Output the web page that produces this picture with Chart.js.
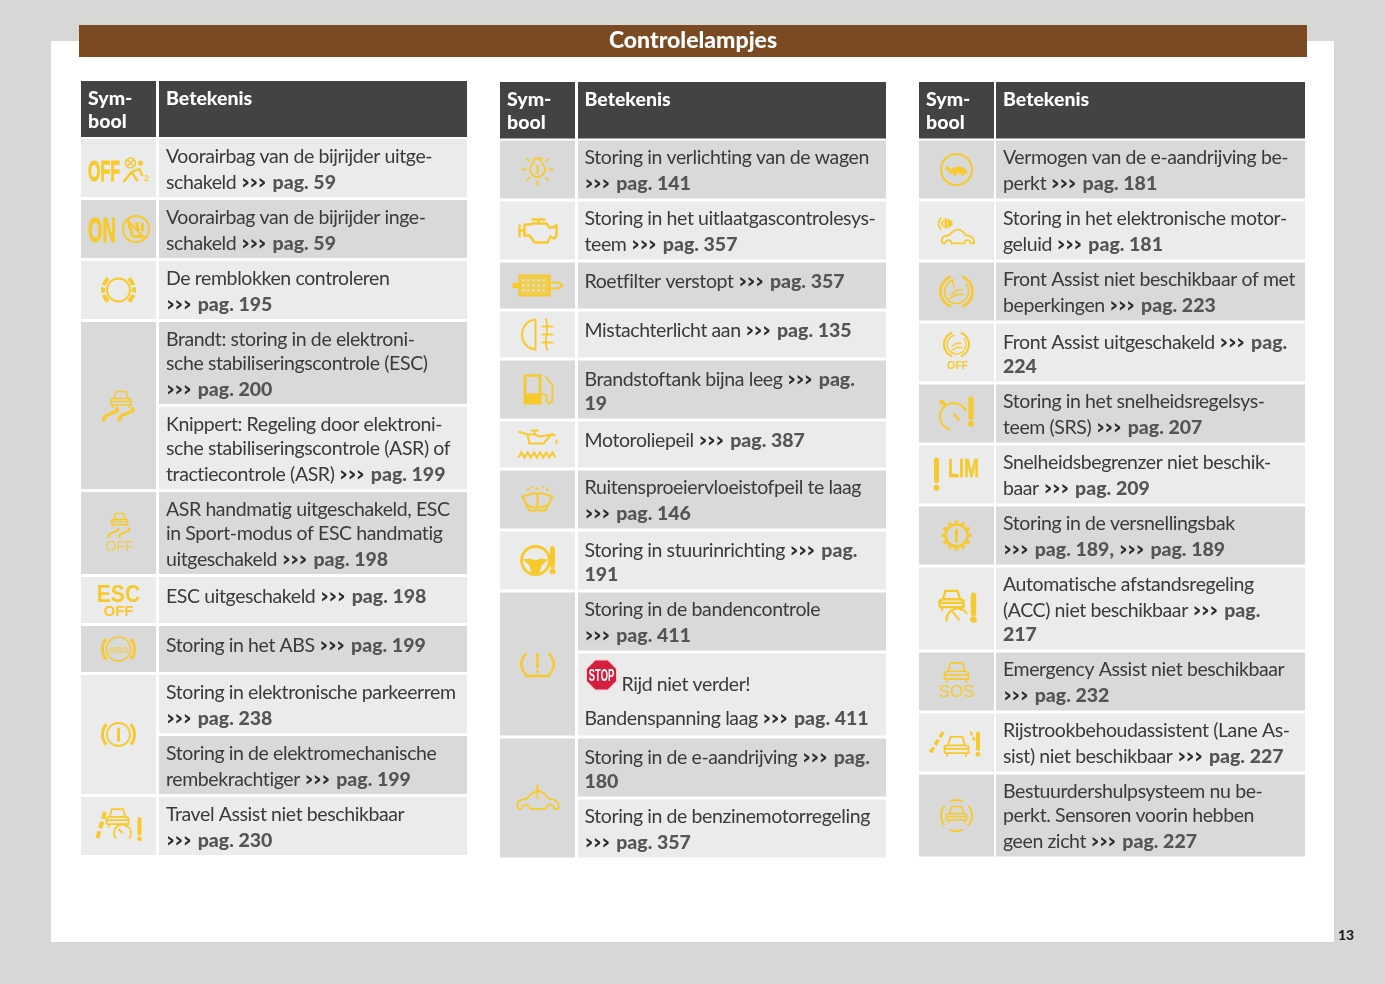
<!DOCTYPE html>
<html>
<head>
<meta charset="utf-8">
<title>Controlelampjes</title>
<script src="https://cdn.jsdelivr.net/npm/chart.js@4"></script>
<style>
  html, body { margin: 0; background: #d7d7d5; }
  #page { position: relative; width: 1385px; height: 984px; overflow: hidden; }
  #sheet { position: absolute; left: 51px; top: 41px; width: 1283px; height: 901px; background: #fff; }
  #band { position: absolute; left: 79px; top: 25px; width: 1228px; height: 32px; background: #7b4a22; }
  canvas { position: absolute; left: 0; top: 0; }
</style>
</head>
<body>
<div id="page">
  <div id="sheet"></div>
  <div id="band"></div>
  <canvas id="lampChart" width="1385" height="984"></canvas>
</div>
<script>
const pageTitle = 'Controlelampjes';
const pageNumber = '13';
const headerSymbol = ['Sym-', 'bool'];
const headerMeaning = 'Betekenis';

// regels per rij, STOP = stopbord voor de tekst
const leftRows = [
  ['Voorairbag van de bijrijder uitge-', 'schakeld ››› pag. 59'],
  ['Voorairbag van de bijrijder inge-', 'schakeld ››› pag. 59'],
  ['De remblokken controleren', '››› pag. 195'],
  ['Brandt: storing in de elektroni-', 'sche stabiliseringscontrole (ESC)', '››› pag. 200'],
  ['Knippert: Regeling door elektroni-', 'sche stabiliseringscontrole (ASR) of', 'tractiecontrole (ASR) ››› pag. 199'],
  ['ASR handmatig uitgeschakeld, ESC', 'in Sport-modus of ESC handmatig', 'uitgeschakeld ››› pag. 198'],
  ['ESC uitgeschakeld ››› pag. 198'],
  ['Storing in het ABS ››› pag. 199'],
  ['Storing in elektronische parkeerrem', '››› pag. 238'],
  ['Storing in de elektromechanische', 'rembekrachtiger ››› pag. 199'],
  ['Travel Assist niet beschikbaar', '››› pag. 230']
];
const middleRows = [
  ['Storing in verlichting van de wagen', '››› pag. 141'],
  ['Storing in het uitlaatgascontrolesys-', 'teem ››› pag. 357'],
  ['Roetfilter verstopt ››› pag. 357'],
  ['Mistachterlicht aan ››› pag. 135'],
  ['Brandstoftank bijna leeg ››› pag.', '19'],
  ['Motoroliepeil ››› pag. 387'],
  ['Ruitensproeiervloeistofpeil te laag', '››› pag. 146'],
  ['Storing in stuurinrichting ››› pag.', '191'],
  ['Storing in de bandencontrole', '››› pag. 411'],
  ['STOP Rijd niet verder!', 'Bandenspanning laag ››› pag. 411'],
  ['Storing in de e-aandrijving ››› pag.', '180'],
  ['Storing in de benzinemotorregeling', '››› pag. 357']
];
const rightRows = [
  ['Vermogen van de e-aandrijving be-', 'perkt ››› pag. 181'],
  ['Storing in het elektronische motor-', 'geluid ››› pag. 181'],
  ['Front Assist niet beschikbaar of met', 'beperkingen ››› pag. 223'],
  ['Front Assist uitgeschakeld ››› pag.', '224'],
  ['Storing in het snelheidsregelsys-', 'teem (SRS) ››› pag. 207'],
  ['Snelheidsbegrenzer niet beschik-', 'baar ››› pag. 209'],
  ['Storing in de versnellingsbak', '››› pag. 189, ››› pag. 189'],
  ['Automatische afstandsregeling', '(ACC) niet beschikbaar ››› pag.', '217'],
  ['Emergency Assist niet beschikbaar', '››› pag. 232'],
  ['Rijstrookbehoudassistent (Lane As-', 'sist) niet beschikbaar ››› pag. 227'],
  ['Bestuurdershulpsysteem nu be-', 'perkt. Sensoren voorin hebben', 'geen zicht ››› pag. 227']
];

// hoeveel rijen elk symbool beslaat
const leftSpans = [1, 1, 1, 2, 1, 1, 1, 2, 1];
const middleSpans = [1, 1, 1, 1, 1, 1, 1, 1, 2, 2];
const rightSpans = [1, 1, 1, 1, 1, 1, 1, 1, 1, 1, 1];

const leftIcons = ['airbagOff', 'airbagOn', 'brakePads', 'skid', 'skidOff', 'escOff', 'abs', 'parkBrake', 'travel'];
const middleIcons = ['bulb', 'engine', 'filter', 'fog', 'fuel', 'oil', 'washer', 'steering', 'tyre', 'carWarn'];
const rightIcons = ['turtle', 'sound', 'front', 'frontOff', 'speed', 'lim', 'gear', 'acc', 'sos', 'lane', 'sensors'];

const YELLOW = '#f6c92c';
const LIGHT = '#ebebeb';
const GREY = '#d9d9d9';
const DARK = '#434343';
const TEXT_FONT = 'Lato';
const TEXT_SIZE = 19.5;
const HEAVY = '900 19.5px ' + TEXT_FONT;

const rowHeight = { 1: 46, 2: 58, 3: 82 };
const rowGap = 3;
const tables = [
  { rows: leftRows, spans: leftSpans, icons: leftIcons, left: 81, meanLeft: 159, meanW: 308, textX: 166, headTop: 81, firstRow: 139, textLift: 0, firstShade: LIGHT },
  { rows: middleRows, spans: middleSpans, icons: middleIcons, left: 500, meanLeft: 578, meanW: 308, textX: 584.5, headTop: 82, firstRow: 140.5, textLift: 0.5, firstShade: GREY },
  { rows: rightRows, spans: rightSpans, icons: rightIcons, left: 919, meanLeft: 996, meanW: 309, textX: 1003, headTop: 82, firstRow: 140.5, textLift: 0.5, firstShade: GREY }
];
const SYM_W = 75;

function lineCount(row) {
  return row.length + (row[0].startsWith('STOP') ? 1 : 0);
}

tables.forEach(function(t) {
  let y = t.firstRow;
  t.tops = [];
  t.bottoms = [];
  t.rows.forEach(function(row) {
    t.tops.push(y);
    y += rowHeight[lineCount(row)];
    t.bottoms.push(y);
    y += rowGap;
  });
});

function shadeOf(t, i) {
  const other = t.firstShade === LIGHT ? GREY : LIGHT;
  return i % 2 === 0 ? t.firstShade : other;
}

const datasets = [];
tables.forEach(function(t) {
  const symX = t.left + SYM_W / 2;
  const meanX = t.meanLeft + t.meanW / 2;
  datasets.push({ barThickness: SYM_W, backgroundColor: DARK, data: [{ x: symX, y: [t.headTop, t.firstRow - 2] }] });
  datasets.push({ barThickness: t.meanW, backgroundColor: DARK, data: [{ x: meanX, y: [t.headTop, t.firstRow - 2] }] });

  const symCells = [], symColors = [];
  let r = 0;
  t.spans.forEach(function(span) {
    symCells.push({ x: symX, y: [t.tops[r], t.bottoms[r + span - 1]] });
    symColors.push(shadeOf(t, r));
    r += span;
  });
  datasets.push({ barThickness: SYM_W, backgroundColor: symColors, data: symCells });
  datasets.push({
    barThickness: t.meanW,
    backgroundColor: t.rows.map(function(row, i) { return shadeOf(t, i); }),
    data: t.rows.map(function(row, i) { return { x: meanX, y: [t.tops[i], t.bottoms[i]] }; })
  });
});

// ---- kleine tekenhulpjes voor de symbolen ----
function poly(c, pts, close) {
  c.beginPath();
  pts.forEach(function(p, i) { i ? c.lineTo(p[0], p[1]) : c.moveTo(p[0], p[1]); });
  if (close) c.closePath();
  c.stroke();
}
function arc(c, x, y, r, a, b) {
  c.beginPath();
  c.arc(x, y, r, a * Math.PI / 180, b * Math.PI / 180);
  c.stroke();
}
function dot(c, x, y, r) {
  c.beginPath();
  c.arc(x, y, r, 0, Math.PI * 2);
  c.fill();
}
function bang(c, x, y, h, w) {
  c.save();
  c.lineWidth = w;
  c.lineCap = 'round';
  poly(c, [[x, y - h / 2 + w / 2], [x, y + h * 0.2]]);
  c.restore();
  dot(c, x, y + h / 2 - w * 0.55, w * 0.6);
}
function word(c, s, x, y, font, sx, heft) {
  c.save();
  c.font = font;
  c.textAlign = 'center';
  c.translate(x, y);
  c.scale(sx || 1, 1);
  c.fillText(s, 0, 0);
  if (heft) {
    c.lineWidth = heft;
    c.strokeText(s, 0, 0);
  }
  c.restore();
}
function carFront(c, x, y, s) {
  poly(c, [[x - .72 * s, y - .1 * s], [x - .5 * s, y - .8 * s], [x + .5 * s, y - .8 * s], [x + .72 * s, y - .1 * s]]);
  poly(c, [[x - s, y + .55 * s], [x - s, y], [x - .72 * s, y - .1 * s], [x + .72 * s, y - .1 * s], [x + s, y], [x + s, y + .55 * s], [x - s, y + .55 * s]]);
  poly(c, [[x - s, y + .2 * s], [x + s, y + .2 * s]]);
  poly(c, [[x - .8 * s, y + .55 * s], [x - .8 * s, y + .85 * s]]);
  poly(c, [[x + .8 * s, y + .55 * s], [x + .8 * s, y + .85 * s]]);
}
function carSide(c, x, y, s) {
  c.beginPath();
  c.moveTo(x - .75 * s, y + .42 * s);
  c.lineTo(x - .9 * s, y + .42 * s);
  c.quadraticCurveTo(x - 1.08 * s, y + .1 * s, x - .75 * s, y - .02 * s);
  c.lineTo(x - .5 * s, y - .08 * s);
  c.quadraticCurveTo(x - .2 * s, y - .42 * s, x + .05 * s, y - .42 * s);
  c.quadraticCurveTo(x + .3 * s, y - .4 * s, x + .5 * s, y - .08 * s);
  c.quadraticCurveTo(x + 1.08 * s, y - .02 * s, x + s, y + .42 * s);
  c.lineTo(x + .8 * s, y + .42 * s);
  c.arc(x + .6 * s, y + .42 * s, .2 * s, 0, Math.PI, true);
  c.lineTo(x - .35 * s, y + .42 * s);
  c.arc(x - .55 * s, y + .42 * s, .2 * s, 0, Math.PI, true);
  c.stroke();
}
function skids(c, x, y, s) {
  [-1, 1].forEach(function(d) {
    const ox = x + d * .55 * s;
    c.beginPath();
    c.moveTo(ox + .3 * s, y);
    c.bezierCurveTo(ox + .9 * s, y + .4 * s, ox - .8 * s, y + .35 * s, ox - .55 * s, y + s);
    c.stroke();
  });
}
function sideArcs(c, r) {
  arc(c, 0, 0, r, -40, 40);
  arc(c, 0, 0, r, 140, 220);
}

const iconDrawers = {
  airbagOff: function(c) {
    word(c, 'OFF', -14.5, 13, 'bold 30px "Liberation Sans"', .53, .8);
    c.lineWidth = 1.4;
    arc(c, 12, -5, 5, 0, 360);
    poly(c, [[8.5, -8.5], [15.5, -1.5]]);
    poly(c, [[15.5, -8.5], [8.5, -1.5]]);
    dot(c, 22, -5, 2.6);
    c.lineWidth = 2.4;
    poly(c, [[5, 14], [13, 4], [21, 1], [24, 8]]);
    poly(c, [[13, 4], [19, 13]]);
    word(c, '2', 28, 13, 'bold 9px "Liberation Sans"');
  },
  airbagOn: function(c) {
    word(c, 'ON', -16.5, 12.7, 'bold 35px "Liberation Sans"', .53, .8);
    c.lineWidth = 2;
    arc(c, 17.5, 0, 13, 0, 360);
    c.lineWidth = 3;
    poly(c, [[10, -7], [14, 7], [24, 8]]);
    poly(c, [[18, -7], [20, 2]]);
    poly(c, [[24, -6], [24, 2]]);
    c.lineWidth = 2;
    poly(c, [[9, -9], [26, 9]]);
  },
  brakePads: function(c) {
    c.lineWidth = 2;
    arc(c, 0, 0, 11.5, 0, 360);
    c.lineWidth = 4;
    arc(c, 0, 0, 15.5, -48, -18);
    arc(c, 0, 0, 15.5, -10, 10);
    arc(c, 0, 0, 15.5, 18, 48);
    arc(c, 0, 0, 15.5, 132, 162);
    arc(c, 0, 0, 15.5, 170, 190);
    arc(c, 0, 0, 15.5, 198, 228);
  },
  skid: function(c) {
    c.lineWidth = 1.5;
    carFront(c, 2.5, -6, 10);
    c.lineWidth = 3.2;
    skids(c, 1, 2, 14);
  },
  skidOff: function(c) {
    c.lineWidth = 1.5;
    carFront(c, 1, -13, 8);
    c.lineWidth = 2;
    skids(c, 1, -5, 10);
    c.globalAlpha = .8;
    word(c, 'OFF', 1, 18, '14px "Liberation Sans"');
  },
  escOff: function(c) {
    word(c, 'ESC', 0, 2, 'bold 24px "Liberation Sans"', .88);
    word(c, 'OFF', 0, 16, 'bold 15px "Liberation Sans"');
  },
  abs: function(c) {
    c.lineWidth = 1.6;
    arc(c, 0, 0, 12, 0, 360);
    c.lineWidth = 3;
    sideArcs(c, 16);
    c.globalAlpha = .75;
    word(c, 'ABS', 0, 3.5, 'bold 9.5px "Liberation Sans"');
  },
  parkBrake: function(c) {
    c.lineWidth = 1.8;
    arc(c, 0, 0, 11.5, 0, 360);
    c.lineWidth = 3;
    sideArcs(c, 16);
    bang(c, 0, 0, 14, 3);
  },
  travel: function(c) {
    c.lineWidth = 4;
    c.setLineDash([7, 3]);
    poly(c, [[-21, 12], [-13, -16]]);
    c.setLineDash([]);
    c.lineWidth = 1.8;
    carFront(c, -1, -8, 11);
    arc(c, 4, 7, 8.5, -220, 40);
    poly(c, [[4, 7], [0, 3]]);
    bang(c, 21, 3, 24, 4);
  },
  bulb: function(c) {
    c.lineWidth = 1.8;
    arc(c, 0, 0, 7.5, -60, 240);
    poly(c, [[-3.5, -7], [-3.5, -11], [3.5, -11], [3.5, -7]]);
    bang(c, 0, 0, 10, 2);
    [[-16, 0, -11, 0], [16, 0, 11, 0], [0, 16, 0, 11], [-11, -11, -8, -8], [11, -11, 8, -8], [-11, 11, -8, 8], [11, 11, 8, 8]].forEach(function(l) {
      poly(c, [[l[0], l[1]], [l[2], l[3]]]);
    });
  },
  engine: function(c) {
    c.lineWidth = 2.4;
    poly(c, [[-18, -6], [-18, 7]]);
    poly(c, [[-18, 0], [-13, 0]]);
    poly(c, [[-13, -6], [-13, 5], [-8, 5], [-3, 12], [10, 12], [13, 6], [17, 8], [19, 5], [19, -5], [15, -3], [12, -3], [9, -7], [-5, -7], [-8, -6], [-13, -6]]);
    poly(c, [[1, -7], [1, -11]]);
    poly(c, [[-6, -11], [8, -11]]);
  },
  filter: function(c) {
    c.globalAlpha = .75;
    c.fillRect(-18, -10, 30, 20);
    c.globalAlpha = 1;
    c.lineWidth = 2.2;
    poly(c, [[-18, -10], [12, -10], [12, 10], [-18, 10]], true);
    c.lineWidth = 5;
    poly(c, [[-25, 0], [-18, 0]]);
    c.lineWidth = 2;
    poly(c, [[12, -3], [21, -3], [25, 0], [21, 3], [12, 3]]);
    c.fillStyle = '#e8e0b8';
    for (let a = -14; a < 11; a += 5) { for (let b = -5; b < 7; b += 5) { dot(c, a, b, 1.3); } }
    c.fillStyle = YELLOW;
  },
  fog: function(c) {
    c.lineWidth = 2;
    c.beginPath();
    c.moveTo(-2, -15);
    c.bezierCurveTo(-20, -13, -20, 13, -2, 15);
    c.closePath();
    c.stroke();
    c.lineWidth = 1.8;
    [-8, 0, 8].forEach(function(y) { poly(c, [[4, y], [16, y]]); });
    c.beginPath();
    c.moveTo(8, -16);
    c.bezierCurveTo(13, -6, 5, 6, 10, 16);
    c.stroke();
  },
  fuel: function(c) {
    c.lineWidth = 2.6;
    poly(c, [[-12.5, 5], [-12.5, -14], [2.5, -14], [2.5, 5]]);
    c.fillRect(-14, 4, 18, 11);
    c.lineWidth = 1.8;
    poly(c, [[4, 4], [9, 6], [9, 12], [12, 14], [15, 11], [15, -4], [8, -13]]);
  },
  oil: function(c) {
    c.lineWidth = 2;
    poly(c, [[-19, -13], [-10, -10], [-8, -1], [6, -1], [14, -10], [3, -8], [-3, -10], [-10, -10]]);
    poly(c, [[-3, -10], [-3, -14]]);
    poly(c, [[-7, -14], [1, -14]]);
    poly(c, [[14, -10], [18, -9]]);
    c.beginPath();
    c.moveTo(-19, 13);
    for (let i = 0; i < 6; i++) { c.lineTo(-16 + i * 6.2, 8); c.lineTo(-13 + i * 6.2, 13); }
    c.stroke();
    poly(c, [[19, -5], [19, -1]]);
  },
  washer: function(c) {
    c.lineWidth = 2;
    poly(c, [[-15, -3], [-5, -6], [5, -6], [15, -3], [8, 11], [-8, 11]], true);
    poly(c, [[-10, 6], [-3, 8], [3, 8], [10, 6]]);
    poly(c, [[0, -6], [0, 8]]);
    c.setLineDash([3, 2]);
    poly(c, [[-11, -9], [-5, -13]]);
    poly(c, [[11, -9], [5, -13]]);
    poly(c, [[-2, -11], [2, -11]]);
    c.setLineDash([]);
  },
  steering: function(c) {
    c.lineWidth = 2.8;
    arc(c, -2, 0, 14, 0, 360);
    c.beginPath();
    c.moveTo(-15, -1); c.lineTo(-7, -2); c.lineTo(-2, 0); c.lineTo(3, -2); c.lineTo(11, -1);
    c.lineTo(4, 5); c.lineTo(2, 13); c.lineTo(-6, 13); c.lineTo(-8, 5);
    c.closePath();
    c.fill();
    bang(c, 15, -0.5, 28, 5);
  },
  tyre: function(c) {
    c.lineWidth = 2.4;
    c.beginPath();
    c.moveTo(-11, -11);
    c.bezierCurveTo(-19, -2, -17, 4, -11, 12);
    c.lineTo(11, 12);
    c.bezierCurveTo(17, 4, 19, -2, 11, -11);
    c.stroke();
    bang(c, 0, -1, 20, 2.4);
  },
  carWarn: function(c) {
    c.lineWidth = 1.8;
    carSide(c, 0, 2, 21);
    bang(c, 0, -6.5, 14, 2.2);
  },
  turtle: function(c) {
    c.lineWidth = 2;
    arc(c, 0, 0, 15.5, 0, 360);
    c.beginPath();
    c.ellipse(2, 4, 9, 7, 0, Math.PI, 0);
    c.closePath();
    c.fill();
    dot(c, -9, -1, 2.2);
    c.lineWidth = 1.8;
    poly(c, [[-8, 0], [-6, 3]]);
    c.fillRect(-3, 4, 2.5, 2.5);
    c.fillRect(5, 4, 2.5, 2.5);
  },
  sound: function(c) {
    c.lineWidth = 1.7;
    carSide(c, 1, 6, 16.5);
    c.fillRect(-12, -12, 2.5, 10);
    c.beginPath();
    c.moveTo(-9, -12); c.lineTo(-4, -9); c.lineTo(-4, -5); c.lineTo(-9, -2);
    c.fill();
    arc(c, -11, -7, 3.5, 120, 240);
    arc(c, -11, -7, 7, 125, 235);
  },
  front: function(c) {
    c.lineWidth = 2.6;
    arc(c, 0, 0, 16, 110, 250);
    arc(c, 0, 0, 16, -70, 70);
    c.lineWidth = 1.6;
    arc(c, 0, 0, 12, -40, 260);
    poly(c, [[-6, 3], [0, -1], [6, -2]]);
    poly(c, [[-7, 7], [0, 3], [8, 3]]);
    poly(c, [[-5, -12], [-2, -4]]);
  },
  frontOff: function(c) {
    c.lineWidth = 2;
    arc(c, 0, -8, 12.5, 110, 250);
    arc(c, 0, -8, 12.5, -70, 70);
    c.lineWidth = 1.3;
    arc(c, 0, -8, 9.5, -40, 260);
    poly(c, [[-5, -6], [0, -9], [5, -9]]);
    poly(c, [[-5, -2], [0, -5], [6, -5]]);
    word(c, 'OFF', 1, 16, 'bold 10.5px "Liberation Sans"');
  },
  speed: function(c) {
    c.lineWidth = 2;
    arc(c, -3, 3, 13.5, 105, 335);
    dot(c, -14, -11, 2.5);
    poly(c, [[-17, -13], [-11, -9]]);
    c.lineWidth = 2.6;
    poly(c, [[-3, 0], [3, 7]]);
    bang(c, 14.5, -2, 30, 5);
  },
  lim: function(c) {
    bang(c, -20, -0.5, 33, 5);
    word(c, 'LIM', 7, 2.5, 'bold 25px "Liberation Sans"', .72, .5);
  },
  gear: function(c) {
    c.lineWidth = 2.6;
    arc(c, 0, 0, 11, 0, 360);
    c.lineWidth = 3.2;
    for (let a = 0; a < 360; a += 30) {
      const r = a * Math.PI / 180;
      poly(c, [[Math.cos(r) * 12, Math.sin(r) * 12], [Math.cos(r) * 15, Math.sin(r) * 15]]);
    }
    bang(c, 0, 0, 14, 3);
  },
  acc: function(c) {
    c.lineWidth = 2.4;
    carFront(c, -5, -8, 12);
    c.lineWidth = 2;
    arc(c, 1, 11, 11, 170, 330);
    poly(c, [[-4, 3], [3, 12]]);
    bang(c, 17, -1, 30, 5.5);
  },
  sos: function(c) {
    c.lineWidth = 1.6;
    carFront(c, 0, -9, 12);
    word(c, 'SOS', 0, 15, '17px "Liberation Sans"');
  },
  lane: function(c) {
    c.lineWidth = 3.6;
    c.setLineDash([6, 3]);
    poly(c, [[-26, 10], [-13, -11]]);
    c.setLineDash([]);
    c.lineWidth = 1.8;
    carFront(c, 0, 4, 12);
    c.lineWidth = 2.4;
    c.setLineDash([4, 2]);
    poly(c, [[14, -11], [19, 0]]);
    c.setLineDash([]);
    bang(c, 21.5, 1.5, 25, 4);
  },
  sensors: function(c) {
    c.lineWidth = 1.6;
    carFront(c, 0, -1, 10);
    c.lineWidth = 2;
    sideArcs(c, 15.5);
    arc(c, 0, 0, 15.5, -115, -65);
    arc(c, 0, 0, 15.5, 65, 115);
  }
};

function drawStop(c, x, y) {
  c.save();
  c.translate(x, y);
  const pts = [];
  for (let i = 0; i < 8; i++) {
    const a = (i * 45 + 22.5) * Math.PI / 180;
    pts.push([Math.cos(a) * 16.5, Math.sin(a) * 16.5]);
  }
  c.fillStyle = '#d2203e';
  c.lineWidth = 1.4;
  c.beginPath();
  pts.forEach(function(p, i) { i ? c.lineTo(p[0], p[1]) : c.moveTo(p[0], p[1]); });
  c.closePath();
  c.fill();
  c.strokeStyle = '#f3d5da';
  c.stroke();
  c.fillStyle = '#ffffff';
  word(c, 'STOP', 0, 6, 'bold 17px "Liberation Sans"', .55);
  c.restore();
}

function drawLine(c, text, x, y) {
  const plainFont = TEXT_SIZE + 'px ' + TEXT_FONT;
  c.textAlign = 'left';
  if (/^\d+$/.test(text)) {
    c.font = HEAVY;
    c.letterSpacing = '0px';
    c.fillStyle = '#555555';
    c.fillText(text, x, y);
    return;
  }
  const parts = text.split(/(›››)/);
  let cx = x, seen = false;
  parts.forEach(function(p) {
    if (p === '›››') {
      c.font = 'bold 22px "DejaVu Sans"';
      c.letterSpacing = '-0.7px';
      c.fillStyle = '#2b2b2b';
      c.fillText(p, cx, y - 0.5);
      cx += c.measureText(p).width + 2;
      seen = true;
    } else if (p) {
      c.font = seen ? HEAVY : plainFont;
      c.letterSpacing = seen ? '0px' : '-0.4px';
      c.fillStyle = seen ? '#555555' : '#3a3a3a';
      c.fillText(p, cx, y);
      cx += c.measureText(p).width;
    }
  });
  c.letterSpacing = '0px';
}

const tablePainter = {
  id: 'tablePainter',
  afterDatasetsDraw: function(chart) {
    const c = chart.ctx;
    const sx = chart.scales.x, sy = chart.scales.y;
    c.save();
    c.textBaseline = 'alphabetic';

    c.fillStyle = '#ffffff';
    c.font = '900 23px ' + TEXT_FONT;
    c.textAlign = 'center';
    c.fillText(pageTitle, sx.getPixelForValue(693), sy.getPixelForValue(48));
    c.fillStyle = '#1e1e1e';
    c.font = '900 14px ' + TEXT_FONT;
    c.textAlign = 'left';
    c.fillText(pageNumber, sx.getPixelForValue(1338), sy.getPixelForValue(940));

    tables.forEach(function(t) {
      const symTextX = sx.getPixelForValue(t.left + 7);
      const meanTextX = sx.getPixelForValue(t.textX);
      c.fillStyle = '#ffffff';
      c.font = '900 19.5px ' + TEXT_FONT;
      c.textAlign = 'left';
      c.fillText(headerSymbol[0], symTextX, sy.getPixelForValue(t.headTop + 24));
      c.fillText(headerSymbol[1], symTextX, sy.getPixelForValue(t.headTop + 47));
      c.fillText(headerMeaning, meanTextX, sy.getPixelForValue(t.headTop + 24));

      t.rows.forEach(function(row, i) {
        let y = t.tops[i] - t.textLift;
        row.forEach(function(line, j) {
          if (line.startsWith('STOP')) {
            y += 38;
            drawStop(c, meanTextX + 17, sy.getPixelForValue(y - 16));
            drawLine(c, line.slice(5), meanTextX + 37, sy.getPixelForValue(y));
            return;
          }
          if (j > 0 && row[j - 1].startsWith('STOP')) y += 34;
          else y += line.indexOf('›››') >= 0 ? 26.2 : 24;
          drawLine(c, line, meanTextX, sy.getPixelForValue(y));
        });
      });

      let r = 0;
      t.spans.forEach(function(span, k) {
        const cy = (t.tops[r] + t.bottoms[r + span - 1]) / 2;
        c.save();
        c.translate(sx.getPixelForValue(t.left + SYM_W / 2), sy.getPixelForValue(cy));
        c.strokeStyle = YELLOW;
        c.fillStyle = YELLOW;
        c.lineWidth = 2;
        iconDrawers[t.icons[k]](c);
        c.restore();
        r += span;
      });
    });
    c.restore();
  }
};

new Chart(document.getElementById('lampChart').getContext('2d'), {
  type: 'bar',
  data: { datasets: datasets },
  plugins: [tablePainter],
  options: {
    responsive: false,
    devicePixelRatio: 1,
    animation: false,
    layout: { padding: 0 },
    datasets: { bar: { grouped: false, inflateAmount: 0, borderWidth: 0 } },
    plugins: { legend: { display: false }, title: { display: false }, tooltip: { enabled: false } },
    events: [],
    scales: {
      x: { type: 'linear', min: 0, max: 1385, display: false, offset: false, grid: { display: false, offset: false } },
      y: { type: 'linear', min: 0, max: 984, reverse: true, display: false, grid: { display: false } }
    }
  }
});
</script>
</body>
</html>
